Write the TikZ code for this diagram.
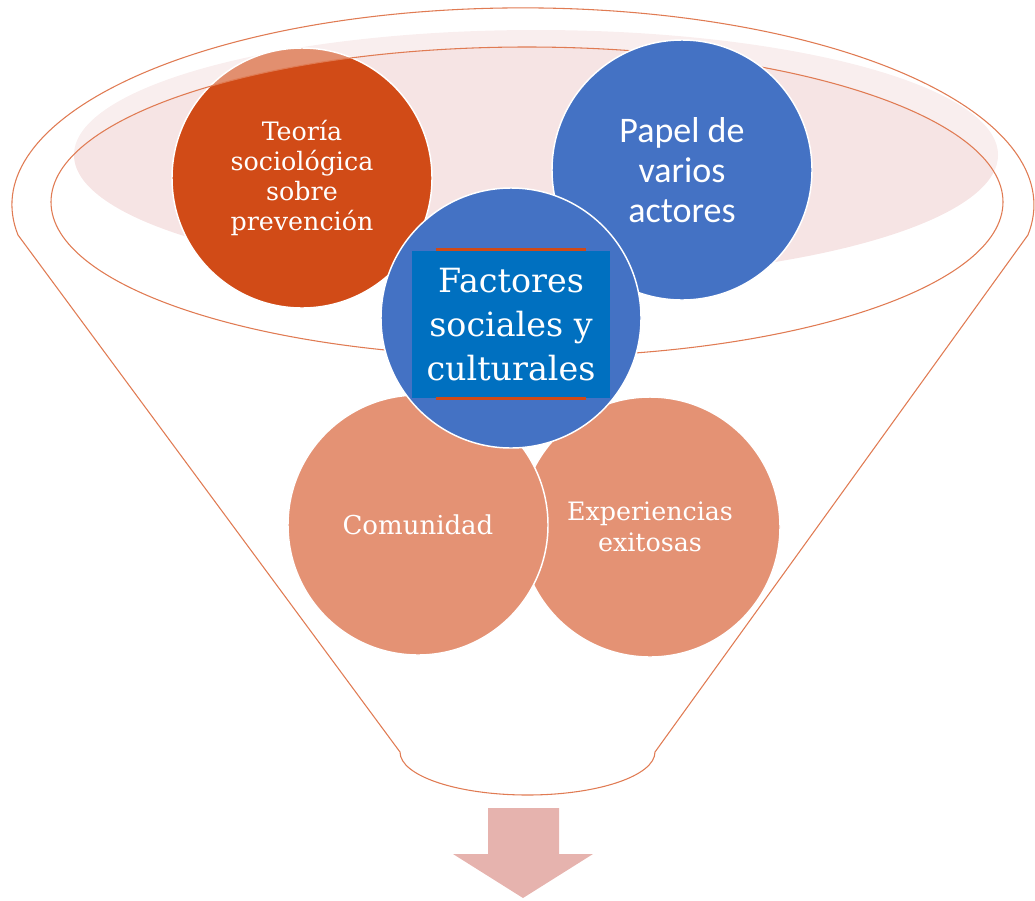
\documentclass[tikz,border=0pt]{standalone}
\usepackage{fontspec}
\setmainfont{DejaVu Serif}
\newfontfamily\calibri{Carlito}
\definecolor{rimpink}{HTML}{F6E4E4}
\definecolor{teoria}{HTML}{D14B17}
\definecolor{ballblue}{HTML}{4472C4}
\definecolor{boxblue}{HTML}{0070C0}
\definecolor{salmon}{HTML}{E49274}
\definecolor{funnelline}{HTML}{E07B53}
\definecolor{accent}{HTML}{D04A17}
\definecolor{arrowpink}{HTML}{E6B3AE}

\begin{document}
\begin{tikzpicture}[x=0.75pt, y=-0.75pt,
    ball/.style={circle, draw=white, line width=1.1pt, minimum size=195pt, inner sep=0pt, align=center, text=white},
    funnel/.style={draw=funnelline, line width=0.8pt},
    bar/.style={draw=accent, line width=2.25pt}]
    \useasboundingbox (0,0) rectangle (1035,900);
    \fill[rimpink] (536,155) ellipse [x radius=462, y radius=125];
    \node[ball, fill=teoria, font=\fontsize{19}{22.5}\selectfont] (teoria) at (302,178) {Teoría\\sociológica\\sobre\\prevención};
    \fill[white, fill opacity=0.38, even odd rule] (523,205) ellipse [x radius=511, y radius=197] (527,202) ellipse [x radius=476, y radius=155];
    \draw[funnel] (18,235) arc[start angle=171.2, end angle=368.8, x radius=511, y radius=197] -- (655,752) arc[start angle=0, end angle=180, x radius=127.5, y radius=43] -- cycle;
    \draw[funnel] (527,202) ellipse [x radius=476, y radius=155];
    \node[ball, fill=ballblue, font=\calibri\fontsize{27}{30}\selectfont] (papel) at (682,170) {Papel de\\varios\\actores};
    \node[ball, fill=salmon, font=\fontsize{19}{23}\selectfont] (exitos) at (650,527) {Experiencias\\exitosas};
    \node[ball, fill=salmon, font=\fontsize{19.5}{23}\selectfont] (comunidad) at (418,525) {Comunidad};
    \node[ball, fill=ballblue] (factores) at (511,318) {};
    \node[fill=boxblue, minimum width=148.5pt, minimum height=110pt, inner sep=0pt, align=center, text=white, font=\fontsize{25}{33}\selectfont] (factbox) at (511,324.5) {Factores\\sociales y\\culturales};
    \draw[bar] ([xshift=18pt, yshift=1.2pt]factbox.north west) -- ([xshift=-18pt, yshift=1.2pt]factbox.north east);
    \draw[bar] ([xshift=18pt, yshift=-0.6pt]factbox.south west) -- ([xshift=-18pt, yshift=-0.6pt]factbox.south east);
    \fill[arrowpink] (488,808) -- (559,808) -- (559,854) -- (593,854) -- (523,898) -- (453,854) -- (488,854) -- cycle;
\end{tikzpicture}
\end{document}
